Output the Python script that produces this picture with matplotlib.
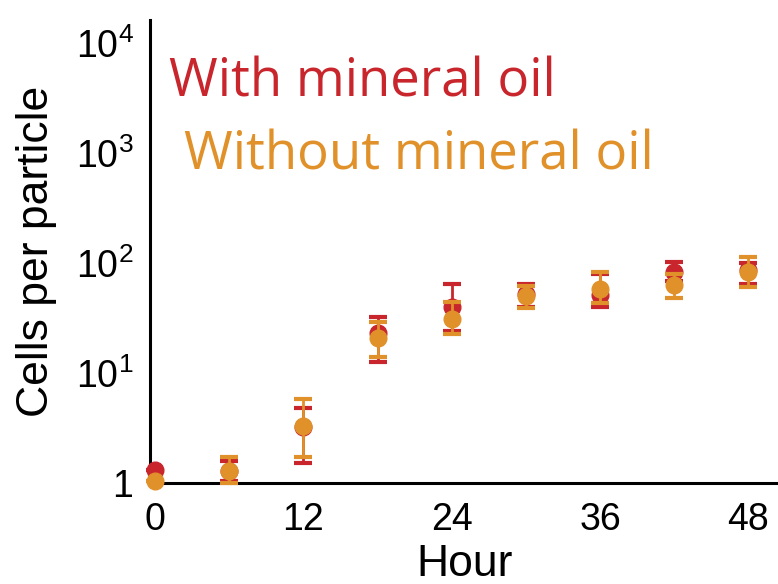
import numpy as np
import matplotlib
matplotlib.use('Agg')
import matplotlib.pyplot as plt

plt.rcParams['font.family'] = ['Liberation Sans', 'DejaVu Sans']
plt.rcParams['mathtext.fontset'] = 'custom'
plt.rcParams['mathtext.rm'] = 'Liberation Sans'
plt.rcParams['mathtext.it'] = 'Liberation Sans'

hours = [0, 6, 12, 18, 24, 30, 36, 42, 48]

# with mineral oil
with_mean = [1.3, 1.28, 3.2, 23, 40, 52, 51, 83, 86]
with_low = [1.3, 1.05, 1.52, 12.6, 24, 40, 40, 68, 64]
with_high = [1.3, 1.6, 4.8, 32, 64, 64, 80, 102, 100]

# without mineral oil
without_mean = [1.05, 1.29, 3.3, 20.8, 31, 50, 58, 63, 83]
without_low = [1.05, 1.0, 1.72, 13.9, 22.7, 39, 43, 48, 60]
without_high = [1.05, 1.72, 5.8, 29, 44, 62, 83, 80, 113]

red = '#c8262c'
orange = '#e0912a'

fig = plt.figure(figsize=(7.78, 5.84), dpi=100)
ax = fig.add_axes([0.193, 0.173, 0.807, 0.793])

def draw(mean, low, high, color, z):
    mean = np.array(mean)
    yerr = [mean - np.array(low), np.array(high) - mean]
    ax.errorbar(hours, mean, yerr=yerr, fmt='o', color=color, ms=12,
                elinewidth=2, capsize=6.5, capthick=3, zorder=z, clip_on=False)

draw(with_mean, with_low, with_high, red, 3)
draw(without_mean, without_low, without_high, orange, 4)

ax.set_yscale('log')
ax.set_ylim(1, 10 ** 4.21)
ax.set_xlim(-0.4, 50.4)
ax.set_yticks([1, 10, 100, 1000, 10000])
ax.set_yticklabels(['1', r'$10^{1}$', r'$10^{2}$', r'$10^{3}$', r'$10^{4}$'])
ax.minorticks_off()
ax.set_xticks([0, 12, 24, 36, 48])
ax.tick_params(length=0, labelsize=27)
ax.tick_params(axis='x', pad=14)
ax.tick_params(axis='y', pad=12)

for s in ['top', 'right']:
    ax.spines[s].set_visible(False)
for s in ['left', 'bottom']:
    ax.spines[s].set_linewidth(2.2)

ax.set_xlabel('Hour', fontsize=32, labelpad=4)
ax.set_ylabel('Cells per particle', fontsize=32, labelpad=13)

fig.text(169 / 778, 1 - 83 / 584, 'With mineral oil', color=red,
         fontsize=38, va='center', family=['Open Sans', 'DejaVu Sans'])
fig.text(184 / 778, 1 - 156 / 584, 'Without mineral oil', color=orange,
         fontsize=38, va='center', family=['Open Sans', 'DejaVu Sans'])

fig.savefig('out.png', dpi=100)
